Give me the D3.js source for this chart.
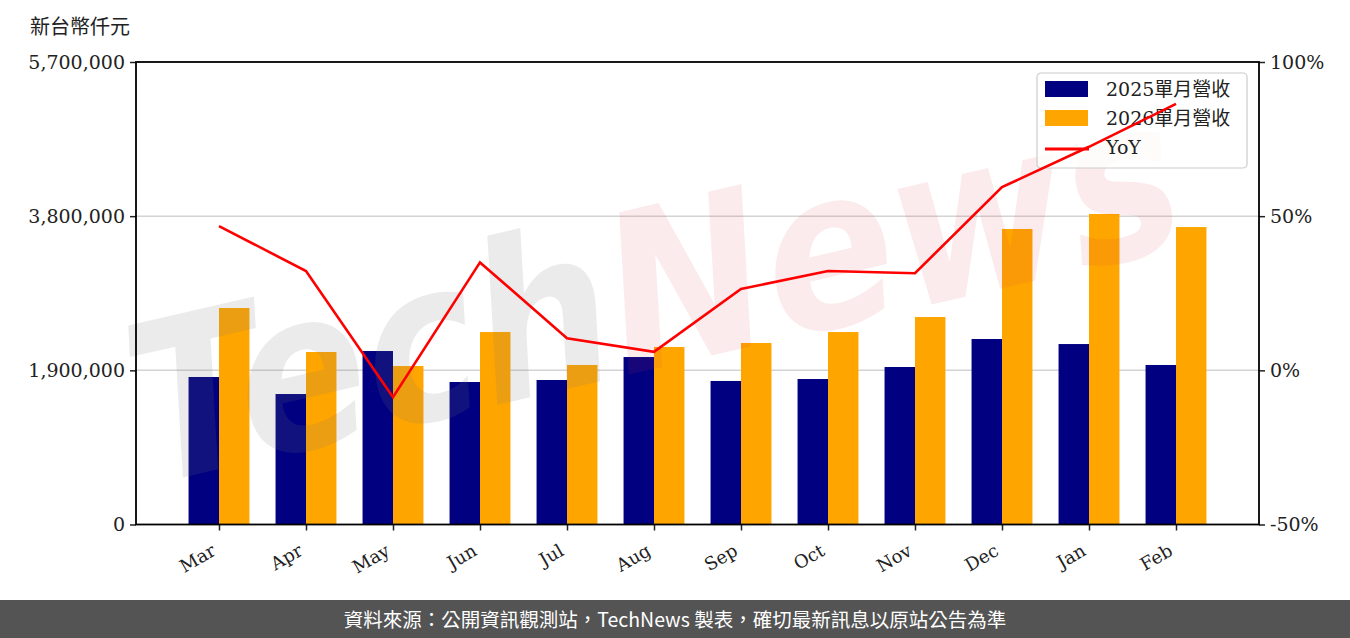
<!DOCTYPE html>
<html>
<head>
<meta charset="utf-8">
<script src="https://cdn.jsdelivr.net/npm/d3@7"></script>
<style>
  body { margin: 0; background: #fff; }
  svg { display: block; }
</style>
</head>
<body>
<script>
// chart data
var months = ["Mar", "Apr", "May", "Jun", "Jul", "Aug", "Sep", "Oct", "Nov", "Dec", "Jan", "Feb"];
var rev2025 = [1818000, 1608000, 2138000, 1756000, 1781000, 2064000, 1769000, 1793000, 1941000, 2286000, 2224000, 1966000];
var rev2026 = [2668000, 2126000, 1953000, 2372000, 1966000, 2188000, 2237000, 2372000, 2557000, 3642000, 3827000, 3666000];
var yoy = [46.8, 32.2, -8.7, 35.0, 10.4, 6.0, 26.4, 32.2, 31.5, 59.4, 72.5, 86.4];
var leftTicks = [0, 1900000, 3800000, 5700000];
var rightTicks = [-50, 0, 50, 100];
var seriesNames = ["2025單月營收", "2026單月營收", "YoY"];

window.onload = drawChart();

function drawChart(){
    var width = 1350,
        height = 638;
    var left = 136, right = 1259, top = 62, bottom = 524.5;
    var serif = "'DejaVu Serif', 'Noto Sans CJK TC', serif";
    var cjk = "'Noto Sans CJK TC', sans-serif";

    var svg = d3.select("body")
        .append("svg")
        .attr("width", width)
        .attr("height", height);

    var x = d3.scaleLinear()
        .domain([-0.954, months.length - 1 + 0.954])
        .range([left, right]);
    var barW = x(0.35) - x(0);

    var y = d3.scaleLinear()
        .domain([0, 5700000])
        .range([bottom, top]);

    var y2 = d3.scaleLinear()
        .domain([-50, 100])
        .range([bottom, top]);

    //grid lines at inner ticks
    svg.append("g")
        .selectAll("line")
        .data([1900000, 3800000])
        .enter()
        .append("line")
        .attr("x1", left)
        .attr("x2", right)
        .attr("y1", function(d){ return y(d); })
        .attr("y2", function(d){ return y(d); })
        .attr("stroke", "#d3d3d3")
        .attr("stroke-width", 1.5);

    //bars
    svg.append("g")
        .selectAll("rect")
        .data(rev2025)
        .enter()
        .append("rect")
        .attr("x", function(d, i){ return x(i - 0.35); })
        .attr("y", function(d){ return y(d); })
        .attr("width", barW)
        .attr("height", function(d){ return y(0) - y(d); })
        .attr("fill", "#000080");

    svg.append("g")
        .selectAll("rect")
        .data(rev2026)
        .enter()
        .append("rect")
        .attr("x", function(d, i){ return x(i); })
        .attr("y", function(d){ return y(d); })
        .attr("width", barW)
        .attr("height", function(d){ return y(0) - y(d); })
        .attr("fill", "#FFA500");

    //faint watermark, kept inside the frame
    var wm = svg.append("text")
        .attr("transform", "translate(150,485) rotate(-13)")
        .attr("font-family", "'DejaVu Sans', sans-serif")
        .attr("font-style", "italic")
        .attr("font-weight", "bold")
        .attr("font-size", 220)
        .attr("textLength", 1070)
        .attr("lengthAdjust", "spacingAndGlyphs");
    wm.append("tspan").text("Tech").attr("fill", "rgba(120,120,120,0.15)");
    wm.append("tspan").text("News").attr("fill", "rgba(215,60,70,0.1)");

    //left axis
    var axL = svg.append("g")
        .attr("transform", "translate(" + left + ",0)")
        .call(d3.axisLeft(y).tickValues(leftTicks).tickSize(6).tickPadding(5)
            .tickFormat(d3.format(",")));
    //right axis
    var axR = svg.append("g")
        .attr("transform", "translate(" + right + ",0)")
        .call(d3.axisRight(y2).tickValues(rightTicks).tickSize(6).tickPadding(5)
            .tickFormat(function(d){ return d + "%"; }));
    //bottom axis
    var axB = svg.append("g")
        .attr("transform", "translate(0," + bottom + ")")
        .call(d3.axisBottom(x).tickValues(d3.range(months.length)).tickSize(6)
            .tickFormat(function(d){ return months[d]; }));

    [axL, axR, axB].forEach(function(ax){
        ax.select(".domain").remove();
        ax.selectAll(".tick line").attr("stroke", "#222").attr("stroke-width", 1.5);
        ax.selectAll("text")
            .attr("font-family", serif)
            .attr("font-size", 19)
            .attr("fill", "#222");
    });
    axB.selectAll("text")
        .attr("font-size", 18)
        .attr("text-anchor", "end")
        .attr("dy", 0)
        .attr("transform", "translate(-7,22) rotate(-30)");

    //frame
    svg.append("rect")
        .attr("x", left)
        .attr("y", top)
        .attr("width", right - left)
        .attr("height", bottom - top)
        .attr("fill", "none")
        .attr("stroke", "#000")
        .attr("stroke-width", 1.8);

    //axis title
    svg.append("text")
        .attr("x", 30)
        .attr("y", 34)
        .attr("font-family", cjk)
        .attr("font-size", 20)
        .attr("fill", "#222")
        .text("新台幣仟元");

    //legend
    var lg = svg.append("g").attr("transform", "translate(1037,73)");
    lg.append("rect")
        .attr("width", 210)
        .attr("height", 95)
        .attr("rx", 4)
        .attr("fill", "rgba(255,255,255,0.8)")
        .attr("stroke", "#cccccc")
        .attr("stroke-width", 1.2);
    var swatch = ["#000080", "#FFA500"];
    swatch.forEach(function(c, i){
        lg.append("rect")
            .attr("x", 8)
            .attr("y", 8 + i * 29)
            .attr("width", 43)
            .attr("height", 16)
            .attr("fill", c);
    });
    lg.append("line")
        .attr("x1", 8)
        .attr("x2", 52)
        .attr("y1", 76)
        .attr("y2", 76)
        .attr("stroke", "#ff0000")
        .attr("stroke-width", 3);
    lg.selectAll(".lgtext")
        .data(seriesNames)
        .enter()
        .append("text")
        .attr("class", "lgtext")
        .attr("x", 69)
        .attr("y", function(d, i){ return 23 + i * 29; })
        .attr("font-family", serif)
        .attr("font-size", 19)
        .attr("fill", "#222")
        .text(function(d){ return d; });

    //yoy line
    var line = d3.line()
        .x(function(d, i){ return x(i); })
        .y(function(d){ return y2(d); });
    svg.append("path")
        .datum(yoy)
        .attr("d", line)
        .attr("fill", "none")
        .attr("stroke", "#ff0000")
        .attr("stroke-width", 2.6);

    //footer
    svg.append("rect")
        .attr("x", 0)
        .attr("y", 600)
        .attr("width", width)
        .attr("height", height - 600)
        .attr("fill", "#545454");
    svg.append("text")
        .attr("x", width / 2)
        .attr("y", 627)
        .attr("text-anchor", "middle")
        .attr("font-family", cjk)
        .attr("font-size", 19.5)
        .attr("fill", "#fff")
        .text("資料來源：公開資訊觀測站，TechNews 製表，確切最新訊息以原站公告為準");
};
</script>
</body>
</html>
